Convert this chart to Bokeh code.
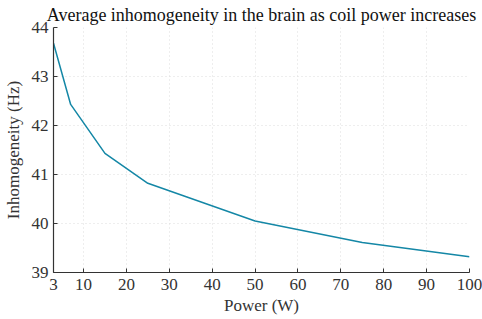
from bokeh.plotting import figure
from bokeh.models import FixedTicker, Range1d
from bokeh.embed import file_html
from bokeh.resources import INLINE

power = [3, 7, 15, 25, 50, 75, 100]
inhomogeneity = [43.68, 42.43, 41.43, 40.82, 40.05, 39.61, 39.32]
x_ticks = [3, 10, 20, 30, 40, 50, 60, 70, 80, 90, 100]
y_ticks = [39, 40, 41, 42, 43, 44]

FONT = "Liberation Serif"

p = figure(width=482, height=319, output_backend="svg", toolbar_location=None,
           x_range=Range1d(3, 100), y_range=Range1d(39, 44),
           title="Average inhomogeneity in the brain as coil power increases",
           min_border_left=51, min_border_right=13, min_border_bottom=47, min_border_top=26)

p.line(power, inhomogeneity, line_color="#1487a6", line_width=1.5)

p.title.text_font = FONT
p.title.text_font_size = "18px"
p.title.text_font_style = "normal"
p.title.align = "center"
p.title.text_color = "#111111"
p.title.text_line_height = 1.0
p.title.offset = 0
p.title.standoff = 5

p.outline_line_color = None
p.background_fill_color = "white"
p.border_fill_color = "white"

for ax in (p.xaxis[0], p.yaxis[0]):
    ax.axis_label_text_font = FONT
    ax.axis_label_text_font_size = "17px"
    ax.axis_label_text_font_style = "normal"
    ax.axis_label_text_color = "#333333"
    ax.major_label_text_font = FONT
    ax.major_label_text_font_size = "17px"
    ax.major_label_text_color = "#333333"
    ax.axis_line_color = "#333333"
    ax.axis_line_width = 1.2
    ax.major_tick_line_color = "#333333"
    ax.major_tick_in = 4
    ax.major_tick_out = 0
    ax.minor_tick_line_color = None

p.xaxis[0].ticker = FixedTicker(ticks=x_ticks)
p.yaxis[0].ticker = FixedTicker(ticks=y_ticks)
p.xaxis[0].axis_label = "Power (W)"
p.yaxis[0].axis_label = "Inhomogeneity (Hz)"
p.xaxis[0].major_label_standoff = 6
p.yaxis[0].major_label_standoff = 5
p.xaxis[0].axis_label_standoff = 3
p.yaxis[0].axis_label_standoff = 6

p.xgrid.ticker = FixedTicker(ticks=x_ticks)
p.ygrid.ticker = FixedTicker(ticks=y_ticks)
for g in (p.xgrid[0], p.ygrid[0]):
    g.grid_line_color = "#dcdcdc"
    g.grid_line_dash = "1 3"
    g.grid_line_width = 1

open("out.html", "w").write(file_html(p, INLINE))
